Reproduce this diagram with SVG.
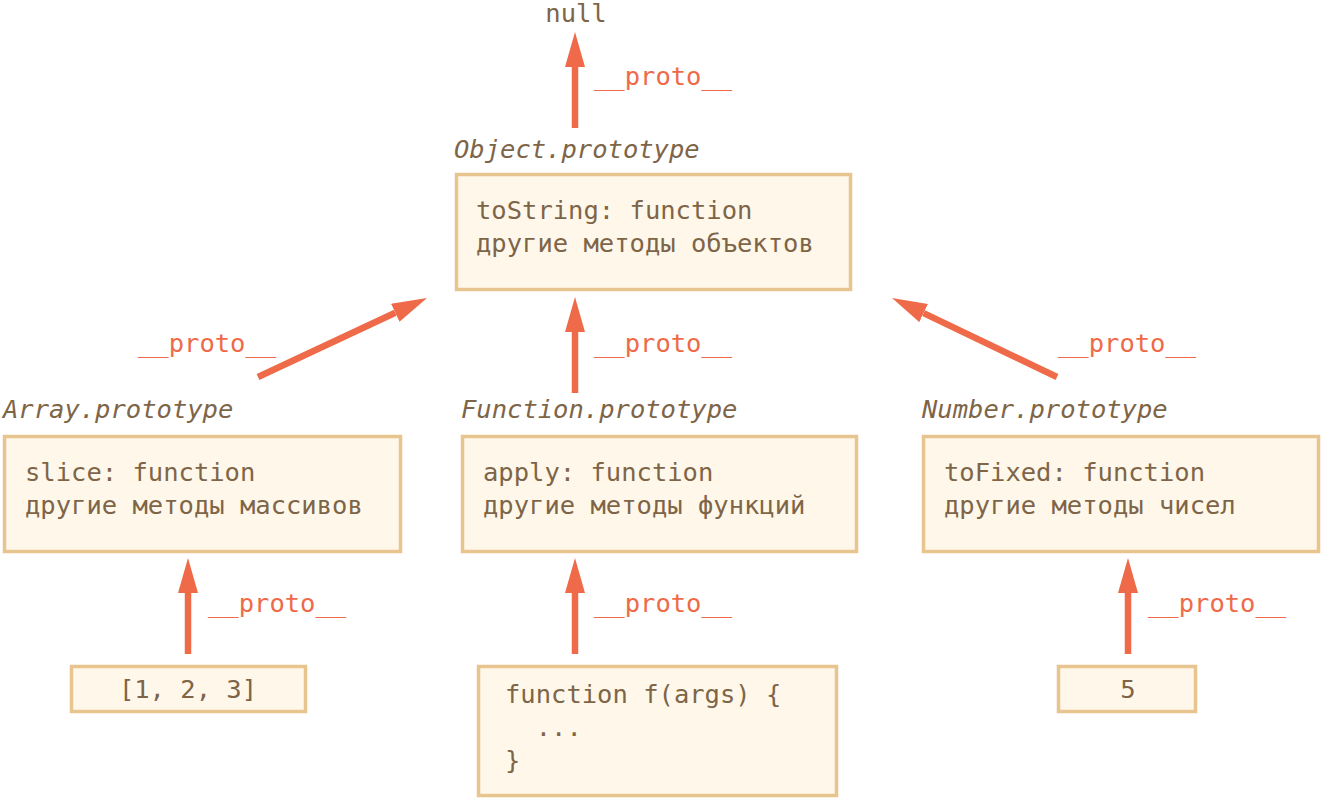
<svg xmlns="http://www.w3.org/2000/svg" width="1322" height="798" viewBox="0 0 1322 798">
<style>
.box{fill:#FFF8EA;stroke:#E8C48E;stroke-width:3.5}
.t{font-family:"DejaVu Sans Mono","Liberation Mono",monospace;font-size:25.5px;fill:#7E6548}
.lbl{font-family:"DejaVu Sans Mono","Liberation Mono",monospace;font-size:25.5px;font-style:italic;fill:#7E6548}
.p{font-family:"DejaVu Sans Mono","Liberation Mono",monospace;font-size:25.5px;fill:#EE6A48}
.c{fill:none;stroke:#EE6A48;stroke-width:6.5;marker-end:url(#ah)}
</style>
<defs>
<marker id="ah" viewBox="0 0 35 20" refX="0" refY="10" markerWidth="35" markerHeight="20" markerUnits="userSpaceOnUse" orient="auto">
<path d="M0,0 L35,10 L0,20 z" fill="#EE6A48"/>
</marker>
</defs>
<g id="null"><text class="t" x="576" y="22" text-anchor="middle">null</text></g>
<g id="object-prototype">
<text class="lbl" x="454" y="158">Object.prototype</text>
<rect class="box" x="456.5" y="174.5" width="394" height="115"/>
<text class="t" x="476" y="219">toString: function</text>
<text class="t" x="476" y="252">другие методы объектов</text>
</g>
<g id="array-prototype">
<text class="lbl" x="3" y="418">Array.prototype</text>
<rect class="box" x="4.5" y="436.5" width="396" height="115"/>
<text class="t" x="25" y="481">slice: function</text>
<text class="t" x="25" y="514">другие методы массивов</text>
</g>
<g id="function-prototype">
<text class="lbl" x="461" y="418">Function.prototype</text>
<rect class="box" x="462.5" y="436.5" width="394" height="115"/>
<text class="t" x="483" y="481">apply: function</text>
<text class="t" x="483" y="514">другие методы функций</text>
</g>
<g id="number-prototype">
<text class="lbl" x="922" y="418">Number.prototype</text>
<rect class="box" x="923.5" y="436.5" width="395" height="115"/>
<text class="t" x="944" y="481">toFixed: function</text>
<text class="t" x="944" y="514">другие методы чисел</text>
</g>
<g id="array">
<rect class="box" x="71.5" y="666.5" width="234" height="45"/>
<text class="t" x="188" y="698" text-anchor="middle">[1, 2, 3]</text>
</g>
<g id="function">
<rect class="box" x="478.5" y="666.5" width="358" height="129"/>
<text class="t" x="505" y="703">function f(args) {</text>
<text class="t" x="535.7" y="736">...</text>
<text class="t" x="505" y="769">}</text>
</g>
<g id="five">
<rect class="box" x="1058.5" y="666.5" width="137" height="45"/>
<text class="t" x="1128" y="698" text-anchor="middle">5</text>
</g>
<g id="connectors">
<line class="c" x1="575" y1="128" x2="575" y2="67"/>
<text class="p" x="594" y="85">__proto__</text>
<line class="c" x1="258" y1="377" x2="395.3" y2="312.8"/>
<text class="p" x="138" y="352">__proto__</text>
<line class="c" x1="575" y1="393" x2="575" y2="332"/>
<text class="p" x="594" y="352">__proto__</text>
<line class="c" x1="1057" y1="377" x2="923.6" y2="313.1"/>
<text class="p" x="1058" y="352">__proto__</text>
<line class="c" x1="188" y1="654" x2="188" y2="593"/>
<text class="p" x="208" y="612">__proto__</text>
<line class="c" x1="575" y1="654" x2="575" y2="593"/>
<text class="p" x="594" y="612">__proto__</text>
<line class="c" x1="1128" y1="654" x2="1128" y2="593"/>
<text class="p" x="1148" y="612">__proto__</text>
</g>
</svg>
